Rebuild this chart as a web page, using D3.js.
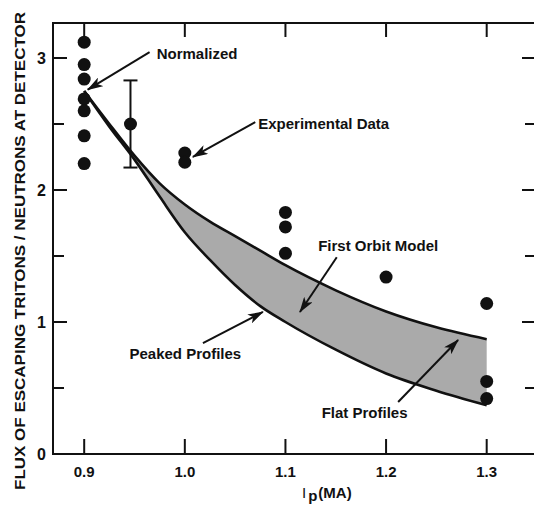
<!DOCTYPE html>
<html>
<head>
<meta charset="utf-8">
<script src="https://cdn.jsdelivr.net/npm/d3@7"></script>
<style>
  html, body { margin: 0; padding: 0; background: #fff; }
  svg { display: block; font-family: "Liberation Sans", Arial, sans-serif; }
</style>
</head>
<body>
<div id="chart"></div>
<script>
// experimental data (plasma current in MA, flux ratio)
const expCurrent = [0.9, 0.9, 0.9, 0.9, 0.9, 0.9, 0.9, 0.946, 1.0, 1.0, 1.1, 1.1, 1.1, 1.2, 1.3, 1.3, 1.3];
const expFlux = [3.12, 2.95, 2.84, 2.69, 2.60, 2.41, 2.20, 2.50, 2.28, 2.21, 1.83, 1.72, 1.52, 1.34, 1.14, 0.55, 0.42];

// error bar on the 0.946 MA point
const errCurrent = 0.946;
const errLow = 2.17;
const errHigh = 2.83;

// first orbit model band
const modelCurrent = [0.9, 0.925, 0.95, 0.975, 1.0, 1.025, 1.05, 1.075, 1.1, 1.15, 1.2, 1.25, 1.3];
const modelFlat = [2.75, 2.50, 2.26, 2.05, 1.89, 1.76, 1.65, 1.54, 1.43, 1.24, 1.08, 0.96, 0.87];
const modelPeaked = [2.75, 2.48, 2.23, 1.95, 1.68, 1.47, 1.28, 1.12, 1.00, 0.79, 0.61, 0.48, 0.37];

// ticks
const xTicks = [0.9, 1.0, 1.1, 1.2, 1.3];
const yMajor = [0, 1, 2, 3];
const yMinor = [0.5, 1.5, 2.5];

// annotations: label, text anchor, arrow start, arrow tip (data units)
const notes = [
  { text: 'Normalized', tx: 0.972, ty: 2.99, x1: 0.965, y1: 3.045, x2: 0.9035, y2: 2.76 },
  { text: 'Experimental Data', tx: 1.073, ty: 2.46, x1: 1.070, y1: 2.515, x2: 1.008, y2: 2.25 },
  { text: 'First Orbit Model', tx: 1.1325, ty: 1.54, x1: 1.151, y1: 1.49, x2: 1.1144, y2: 1.076 },
  { text: 'Peaked Profiles', tx: 0.945, ty: 0.72, x1: 1.018, y1: 0.84, x2: 1.0776, y2: 1.076 },
  { text: 'Flat Profiles', tx: 1.136, ty: 0.27, x1: 1.212, y1: 0.394, x2: 1.2716, y2: 0.864 },
];

const width = 534;
const height = 506;
const plot = { left: 53, right: 536, top: 23, bottom: 454 };

const svg = d3.select('#chart')
  .append('svg')
  .attr('width', width)
  .attr('height', height);

const x = d3.scaleLinear()
  .domain([0.869, 1.349])
  .range([plot.left, plot.right]);

const y = d3.scaleLinear()
  .domain([0, 3.265])
  .range([plot.bottom, plot.top]);

// arrowhead
svg.append('defs')
  .append('marker')
  .attr('id', 'head')
  .attr('viewBox', '0 0 16 10')
  .attr('refX', 15)
  .attr('refY', 5)
  .attr('markerWidth', 16)
  .attr('markerHeight', 10)
  .attr('markerUnits', 'userSpaceOnUse')
  .attr('orient', 'auto')
  .append('path')
  .attr('d', 'M0,0 L16,5 L0,10 L4,5 Z')
  .attr('fill', '#111');

// band between the two profiles
const band = modelCurrent.map((c, i) => ({ c, hi: modelFlat[i], lo: modelPeaked[i] }));

svg.append('path')
  .datum(band)
  .attr('fill', '#aaaaaa')
  .attr('d', d3.area()
    .curve(d3.curveMonotoneX)
    .x((d) => x(d.c))
    .y0((d) => y(d.lo))
    .y1((d) => y(d.hi)));

const line = d3.line().curve(d3.curveMonotoneX);

[modelFlat, modelPeaked].forEach((series) => {
  svg.append('path')
    .attr('fill', 'none')
    .attr('stroke', '#111')
    .attr('stroke-width', 2.6)
    .attr('d', line(modelCurrent.map((c, i) => [x(c), y(series[i])])));
});

// frame
const frame = svg.append('g')
  .attr('stroke', '#111')
  .attr('stroke-width', 2);

frame.append('path')
  .attr('fill', 'none')
  .attr('d', `M${plot.right},${plot.top} H${plot.left} V${plot.bottom} H${plot.right} Z`);

// x ticks, bottom and top
frame.append('g')
  .selectAll('line')
  .data(xTicks)
  .join('line')
  .attr('x1', (d) => x(d)).attr('x2', (d) => x(d))
  .attr('y1', plot.bottom).attr('y2', plot.bottom - 15);

frame.append('g')
  .selectAll('line')
  .data(xTicks)
  .join('line')
  .attr('x1', (d) => x(d)).attr('x2', (d) => x(d))
  .attr('y1', plot.top).attr('y2', plot.top + 14);

// y ticks, left and right
const yTicks = yMajor.map((v) => ({ v, len: 14 }))
  .concat(yMinor.map((v) => ({ v, len: 11 })));

frame.append('g')
  .selectAll('line')
  .data(yTicks)
  .join('line')
  .attr('x1', plot.left).attr('x2', (d) => plot.left + d.len)
  .attr('y1', (d) => y(d.v)).attr('y2', (d) => y(d.v));

frame.append('g')
  .selectAll('line')
  .data(yTicks)
  .join('line')
  .attr('x1', plot.right).attr('x2', (d) => plot.right - d.len)
  .attr('y1', (d) => y(d.v)).attr('y2', (d) => y(d.v));

// tick labels
svg.append('g')
  .selectAll('text')
  .data(xTicks)
  .join('text')
  .attr('x', (d) => x(d))
  .attr('y', plot.bottom + 23)
  .attr('text-anchor', 'middle')
  .attr('font-size', 15)
  .attr('font-weight', 'bold')
  .attr('fill', '#111')
  .text((d) => d3.format('.1f')(d));

svg.append('g')
  .selectAll('text')
  .data(yMajor)
  .join('text')
  .attr('x', 46)
  .attr('y', (d) => y(d) + 6)
  .attr('text-anchor', 'end')
  .attr('font-size', 16)
  .attr('font-weight', 'bold')
  .attr('fill', '#111')
  .text((d) => d);

// axis titles
const xTitle = svg.append('text')
  .attr('x', 302)
  .attr('y', 498)
  .attr('font-size', 15)
  .attr('font-weight', 'bold')
  .attr('fill', '#111');
xTitle.append('tspan').attr('font-weight', 'normal').text('I');
xTitle.append('tspan').attr('dy', 3).attr('dx', 2).text('p');
xTitle.append('tspan').attr('dy', -3).attr('dx', 1).text('(MA)');

svg.append('text')
  .attr('transform', 'translate(25,251) rotate(-90)')
  .attr('text-anchor', 'middle')
  .attr('font-size', 15.5)
  .attr('font-weight', 'bold')
  .attr('fill', '#111')
  .attr('textLength', 478)
  .attr('lengthAdjust', 'spacingAndGlyphs')
  .text('FLUX OF ESCAPING TRITONS / NEUTRONS AT DETECTOR');

// error bar
const eb = svg.append('g')
  .attr('stroke', '#111')
  .attr('stroke-width', 2);
eb.append('line')
  .attr('x1', x(errCurrent)).attr('x2', x(errCurrent))
  .attr('y1', y(errLow)).attr('y2', y(errHigh));
[errLow, errHigh].forEach((v) => {
  eb.append('line')
    .attr('x1', x(errCurrent) - 7).attr('x2', x(errCurrent) + 7)
    .attr('y1', y(v)).attr('y2', y(v));
});

// experimental points
svg.append('g')
  .selectAll('circle')
  .data(expCurrent.map((c, i) => [c, expFlux[i]]))
  .join('circle')
  .attr('cx', (d) => x(d[0]))
  .attr('cy', (d) => y(d[1]))
  .attr('r', 6.5)
  .attr('fill', '#111');

// annotations
const gNotes = svg.append('g');

gNotes.selectAll('line')
  .data(notes)
  .join('line')
  .attr('x1', (d) => x(d.x1)).attr('y1', (d) => y(d.y1))
  .attr('x2', (d) => x(d.x2)).attr('y2', (d) => y(d.y2))
  .attr('stroke', '#111')
  .attr('stroke-width', 2)
  .attr('marker-end', 'url(#head)');

gNotes.selectAll('text')
  .data(notes)
  .join('text')
  .attr('x', (d) => x(d.tx))
  .attr('y', (d) => y(d.ty))
  .attr('font-size', 15)
  .attr('font-weight', 'bold')
  .attr('fill', '#111')
  .text((d) => d.text);
</script>
</body>
</html>
